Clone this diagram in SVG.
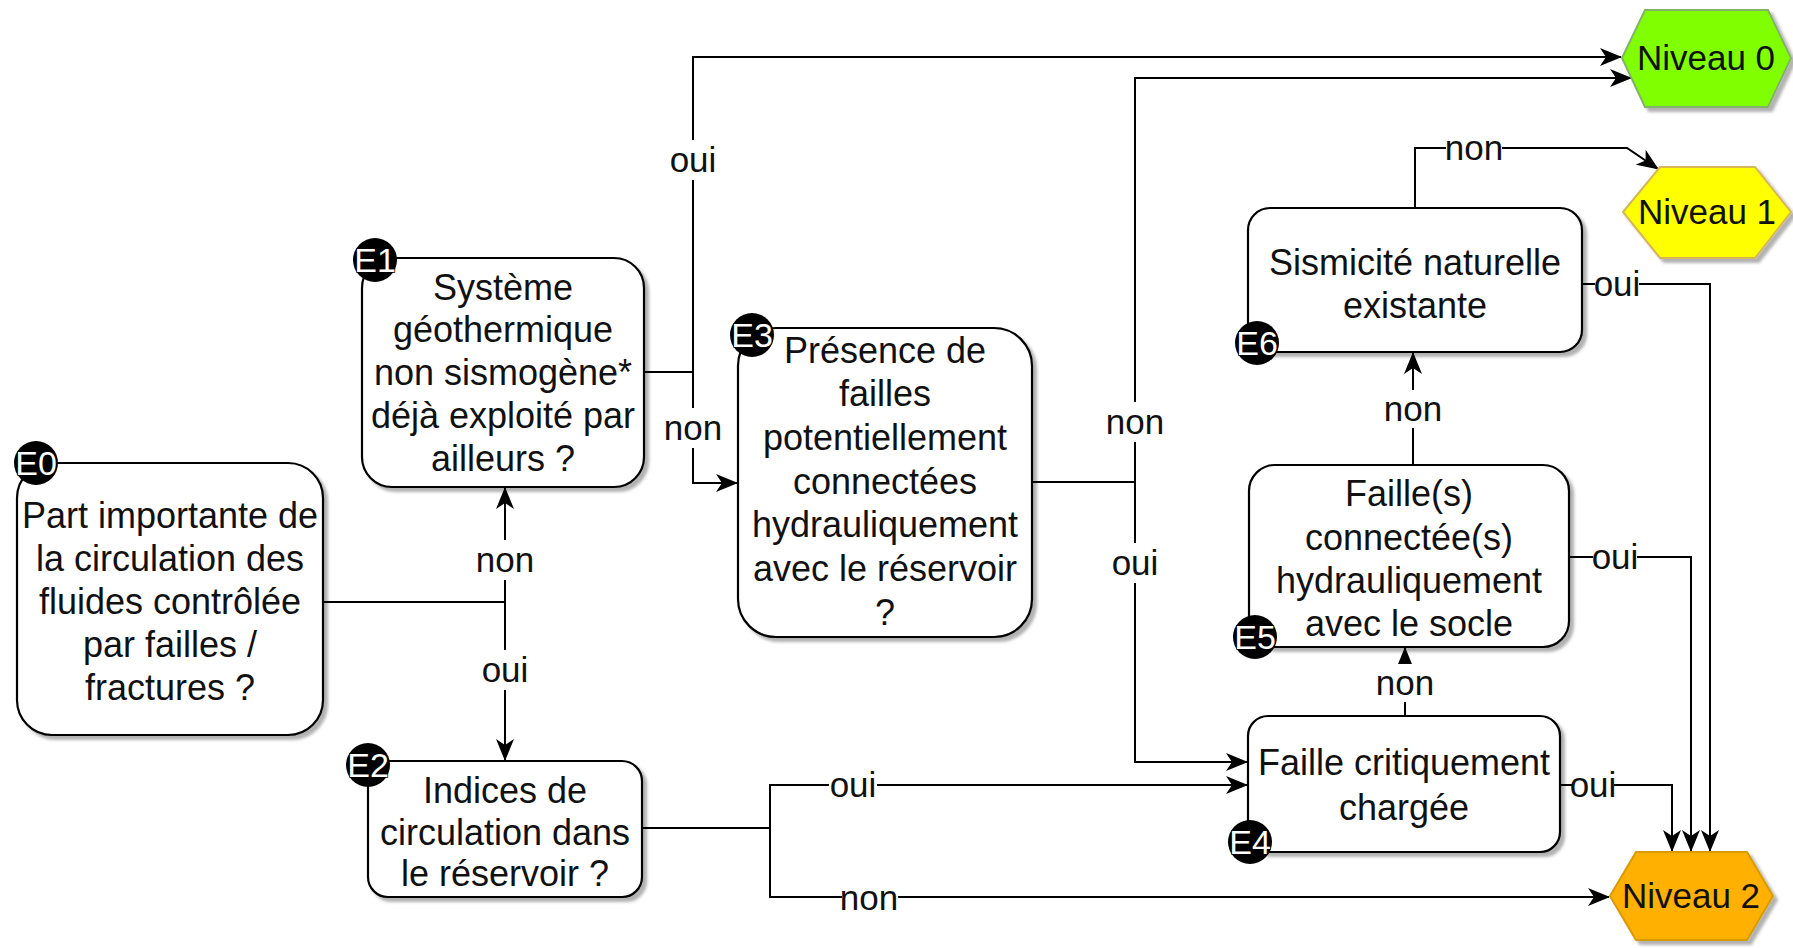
<svg xmlns="http://www.w3.org/2000/svg" width="1793" height="948" viewBox="0 0 1793 948">
<defs>
<filter id="sh" x="-10%" y="-10%" width="130%" height="130%">
<feDropShadow dx="4" dy="4" stdDeviation="1.5" flood-color="#000" flood-opacity="0.3"/>
</filter>
<marker id="arr" viewBox="0 0 22 18" refX="21" refY="9" markerWidth="22" markerHeight="18" markerUnits="userSpaceOnUse" orient="auto">
<path d="M0,0 L22,9 L0,18 L6,9 Z" fill="#000"/>
</marker>
<style>
.box{fill:#fff;stroke:#000;stroke-width:2.2;filter:url(#sh)}
.t{font-family:"Liberation Sans",Arial,sans-serif;font-size:36px;fill:#111;text-anchor:middle}
.lbl{font-family:"Liberation Sans",Arial,sans-serif;font-size:35px;fill:#111;text-anchor:middle}
.lb{fill:#fff;stroke:none}
.c{fill:none;stroke:#000;stroke-width:2}
.ca{fill:none;stroke:#000;stroke-width:2;marker-end:url(#arr)}
.bd{fill:#000}
.bt{font-family:"Liberation Sans",Arial,sans-serif;font-size:34px;fill:#fff;stroke:#000;stroke-width:1.5;paint-order:stroke;text-anchor:middle}
.hx{filter:url(#sh);stroke-width:2}
</style>
</defs>
<rect width="1793" height="948" fill="#fff"/>

<g id="connectors">
<path class="c" d="M323,602 H505"/>
<path class="ca" d="M505,602 V488"/>
<path class="ca" d="M505,602 V760"/>
<path class="c" d="M644,372 H693"/>
<path class="ca" d="M693,372 V57 H1621"/>
<path class="ca" d="M693,372 V483 H737"/>
<path class="c" d="M1032,482 H1135"/>
<path class="ca" d="M1135,482 V78 H1631"/>
<path class="ca" d="M1135,482 V762 H1247"/>
<path class="c" d="M642,828 H770"/>
<path class="ca" d="M770,828 V785 H1247"/>
<path class="ca" d="M770,828 V897 H1609"/>
<path class="ca" d="M1405,716 V648"/>
<path class="ca" d="M1413,465 V353"/>
<path class="ca" d="M1415,208 V148 H1627 L1658,169"/>
<path class="ca" d="M1582,284 H1710 V851"/>
<path class="ca" d="M1569,557 H1691 V851"/>
<path class="ca" d="M1560,785 H1672 V851"/>
<g id="labels">
<rect class="lb" x="482" y="540" width="46" height="40"/><text class="lbl" x="505" y="572">non</text>
<rect class="lb" x="483" y="650" width="44" height="40"/><text class="lbl" x="505" y="682">oui</text>
<rect class="lb" x="671" y="140" width="44" height="40"/><text class="lbl" x="693" y="172">oui</text>
<rect class="lb" x="669" y="408" width="48" height="40"/><text class="lbl" x="693" y="440">non</text>
<rect class="lb" x="1110" y="402" width="50" height="40"/><text class="lbl" x="1135" y="434">non</text>
<rect class="lb" x="1113" y="543" width="44" height="40"/><text class="lbl" x="1135" y="575">oui</text>
<rect class="lb" x="829" y="766" width="48" height="38"/><text class="lbl" x="853" y="797">oui</text>
<rect class="lb" x="842" y="878" width="56" height="38"/><text class="lbl" x="869" y="910">non</text>
<rect class="lb" x="1380" y="664" width="50" height="38"/><text class="lbl" x="1405" y="695">non</text>
<rect class="lb" x="1388" y="390" width="50" height="38"/><text class="lbl" x="1413" y="421">non</text>
<rect class="lb" x="1446" y="129" width="56" height="38"/><text class="lbl" x="1474" y="160">non</text>
<rect class="lb" x="1595" y="265" width="44" height="38"/><text class="lbl" x="1617" y="296">oui</text>
<rect class="lb" x="1593" y="538" width="44" height="38"/><text class="lbl" x="1615" y="569">oui</text>
<rect class="lb" x="1572" y="766" width="42" height="38"/><text class="lbl" x="1593" y="797">oui</text>
</g>
</g>

<g id="E0">
<rect class="box" x="17" y="463" width="306" height="272" rx="35"/>
<text class="t" x="170" y="528">Part importante de</text>
<text class="t" x="170" y="571">la circulation des</text>
<text class="t" x="170" y="614">fluides contrôlée</text>
<text class="t" x="170" y="657">par failles /</text>
<text class="t" x="170" y="700">fractures ?</text>
<circle class="bd" cx="36" cy="463" r="22"/><text class="bt" x="36" y="475">E0</text>
</g>

<g id="E1">
<rect class="box" x="362" y="258" width="282" height="229" rx="30"/>
<text class="t" x="503" y="300">Système</text>
<text class="t" x="503" y="342">géothermique</text>
<text class="t" x="503" y="385">non sismogène*</text>
<text class="t" x="503" y="428">déjà exploité par</text>
<text class="t" x="503" y="471">ailleurs ?</text>
<circle class="bd" cx="375" cy="260" r="22"/><text class="bt" x="375" y="272">E1</text>
</g>

<g id="E2">
<rect class="box" x="368" y="761" width="274" height="136" rx="20"/>
<text class="t" x="505" y="803">Indices de</text>
<text class="t" x="505" y="845">circulation dans</text>
<text class="t" x="505" y="886">le réservoir ?</text>
<circle class="bd" cx="368" cy="765" r="22"/><text class="bt" x="368" y="777">E2</text>
</g>

<g id="E3">
<rect class="box" x="738" y="328" width="294" height="309" rx="38"/>
<text class="t" x="885" y="363">Présence de</text>
<text class="t" x="885" y="406">failles</text>
<text class="t" x="885" y="450">potentiellement</text>
<text class="t" x="885" y="494">connectées</text>
<text class="t" x="885" y="537">hydrauliquement</text>
<text class="t" x="885" y="581">avec le réservoir</text>
<text class="t" x="885" y="625">?</text>
<circle class="bd" cx="752" cy="335" r="22"/><text class="bt" x="752" y="347">E3</text>
</g>

<g id="E4">
<rect class="box" x="1248" y="716" width="312" height="136" rx="20"/>
<text class="t" x="1404" y="775">Faille critiquement</text>
<text class="t" x="1404" y="820">chargée</text>
<circle class="bd" cx="1250" cy="842" r="22"/><text class="bt" x="1250" y="854">E4</text>
</g>

<g id="E5">
<rect class="box" x="1249" y="465" width="320" height="182" rx="26"/>
<text class="t" x="1409" y="506">Faille(s)</text>
<text class="t" x="1409" y="550">connectée(s)</text>
<text class="t" x="1409" y="593">hydrauliquement</text>
<text class="t" x="1409" y="636">avec le socle</text>
<circle class="bd" cx="1255" cy="637" r="22"/><text class="bt" x="1255" y="649">E5</text>
</g>

<g id="E6">
<rect class="box" x="1248" y="208" width="334" height="144" rx="22"/>
<text class="t" x="1415" y="275">Sismicité naturelle</text>
<text class="t" x="1415" y="318">existante</text>
<circle class="bd" cx="1257" cy="343" r="22"/><text class="bt" x="1257" y="355">E6</text>
</g>

<g id="N0">
<polygon class="hx" points="1622,58 1645,10 1768,10 1791,58 1768,107 1645,107" fill="#80ff00" stroke="#82b366"/>
<text class="lbl" x="1706" y="70">Niveau 0</text>
</g>
<g id="N1">
<polygon class="hx" points="1623,212 1660,167 1755,167 1791,212 1755,258 1660,258" fill="#ffff00" stroke="#d6b656"/>
<text class="lbl" x="1707" y="224">Niveau 1</text>
</g>
<g id="N2">
<polygon class="hx" points="1610,896 1636,852 1747,852 1773,896 1747,940 1636,940" fill="#ffb000" stroke="#d79b00"/>
<text class="lbl" x="1691" y="908">Niveau 2</text>
</g>
</svg>
